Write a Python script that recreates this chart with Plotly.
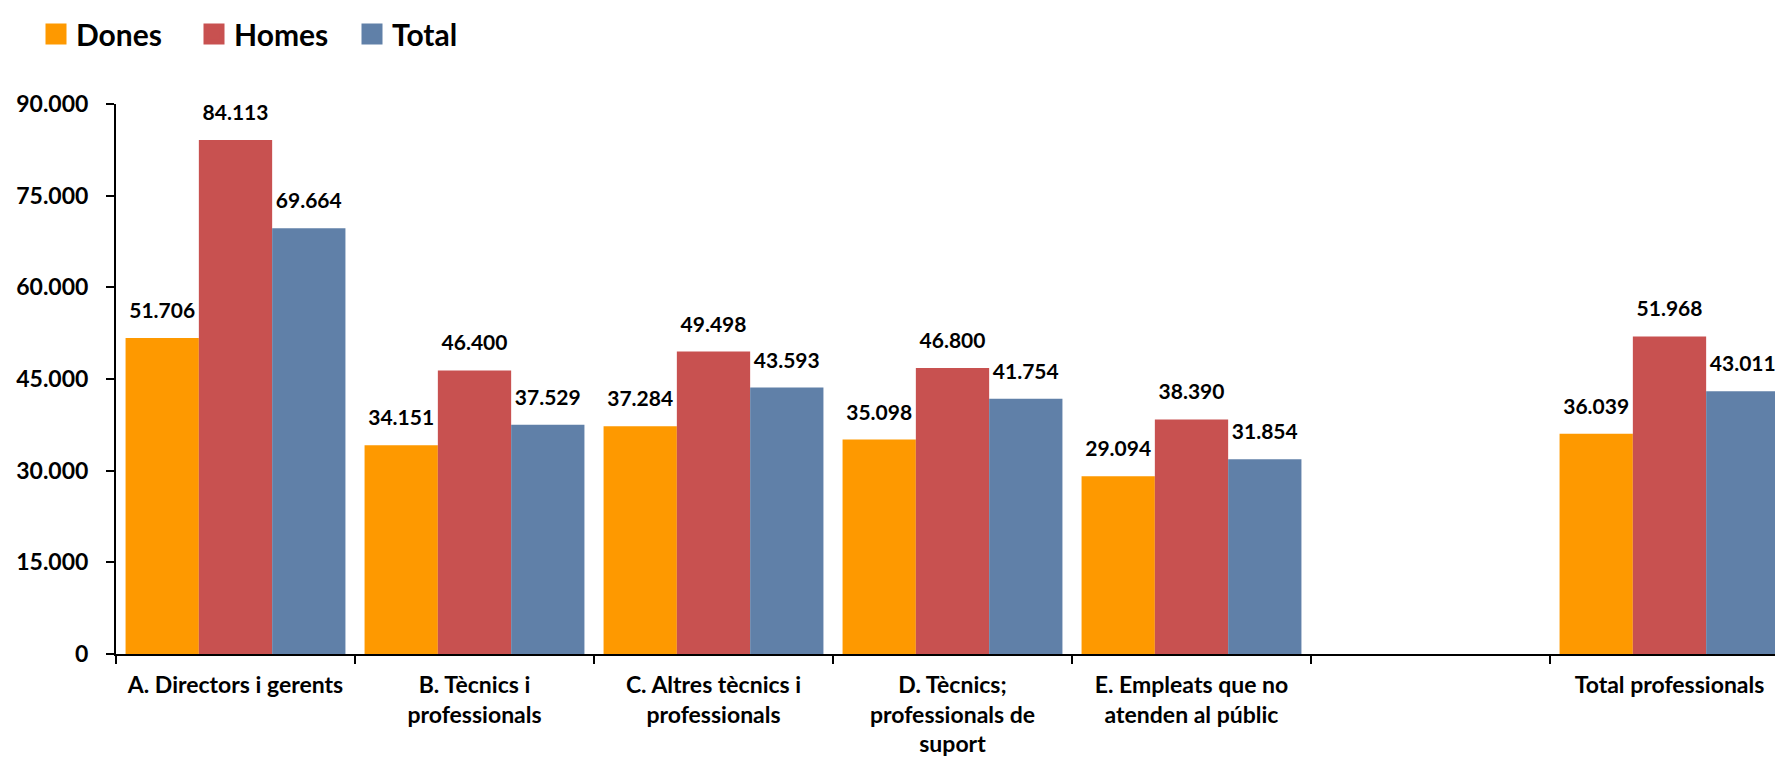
import plotly.graph_objects as go

categories = [
    "A. Directors i gerents",
    "B. Tècnics i<br>professionals",
    "C. Altres tècnics i<br>professionals",
    "D. Tècnics;<br>professionals de<br>suport",
    "E. Empleats que no<br>atenden al públic",
    " ",
    "Total professionals",
]
dones = [51706, 34151, 37284, 35098, 29094, None, 36039]
homes = [84113, 46400, 49498, 46800, 38390, None, 51968]
total = [69664, 37529, 43593, 41754, 31854, None, 43011]

series = [("Dones", dones, "#FE9900"), ("Homes", homes, "#C85150"), ("Total", total, "#6080A8")]

FONT = "Lato"
fig = go.Figure()
for i, (name, vals, col) in enumerate(series):
    fig.add_trace(go.Bar(
        x=categories, y=vals, name=name, marker=dict(color=col, line=dict(width=0)),
        showlegend=False, offsetgroup=str(i),
    ))
for i, (name, vals, col) in enumerate(series):
    fig.add_trace(go.Scatter(
        x=categories, y=vals, mode="markers+text", name=name,
        marker=dict(size=22, color="rgba(0,0,0,0)"),
        texttemplate="%{y:,.0f}", textposition="top center",
        textfont=dict(family=FONT, size=21, color="black", weight="bold"),
        showlegend=False, offsetgroup=str(i), cliponaxis=False, hoverinfo="skip",
    ))
for i, (name, vals, col) in enumerate(series):
    fig.add_trace(go.Scatter(
        x=[categories[0]], y=[None], mode="markers", name=name,
        marker=dict(symbol="square", size=16, color=col, line=dict(color=col, width=5)),
        showlegend=True, offsetgroup=str(i),
    ))

fig.update_layout(
    width=1783, height=757,
    margin=dict(l=108, r=2, t=96, b=111, autoexpand=False),
    paper_bgcolor="white", plot_bgcolor="white",
    barmode="group", bargap=0.08, bargroupgap=0,
    scattermode="group", scattergap=0.08,
    separators=",.",
    font=dict(family=FONT, color="black"),
    legend=dict(
        orientation="h", xref="container", yref="container",
        x=28 / 1783, xanchor="left", y=1, yanchor="top",
        entrywidth=113,
        font=dict(family=FONT, size=30, color="black", weight="bold"),
        bgcolor="rgba(0,0,0,0)",
    ),
    xaxis=dict(
        type="category", categoryorder="array", categoryarray=categories,
        showline=True, linecolor="black", linewidth=2, automargin=False,
        ticks="outside", tickson="boundaries", ticklen=8, tickwidth=2, tickcolor="black",
        tickfont=dict(family=FONT, size=23, color="black", weight="bold"),
        ticklabelstandoff=9, showgrid=False,
    ),
    yaxis=dict(
        range=[0, 90000], dtick=15000, tickformat=",.0f", automargin=False,
        showline=True, linecolor="black", linewidth=2,
        ticks="outside", ticklen=8, tickwidth=2, tickcolor="black",
        tickfont=dict(family=FONT, size=23, color="black", weight="bold"),
        showgrid=False, zeroline=False, ticklabelstandoff=13,
    ),
)

fig.write_html("out.html")
